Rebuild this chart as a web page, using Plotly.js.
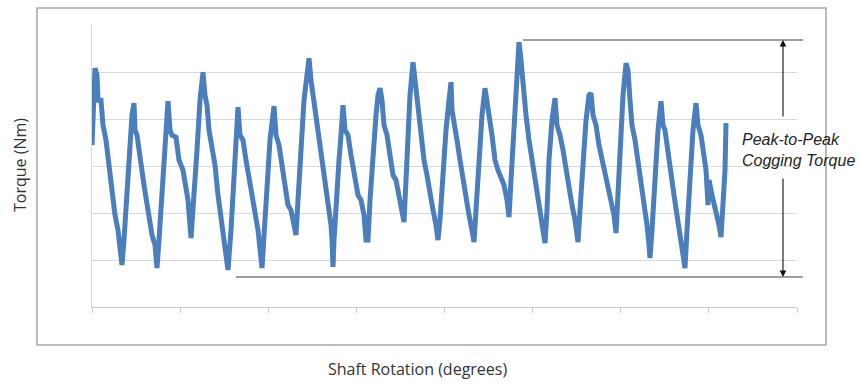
<!DOCTYPE html>
<html>
<head>
<meta charset="utf-8">
<script src="https://cdn.plot.ly/plotly-3.0.1.min.js"></script>
<style>
  html, body { margin: 0; padding: 0; background: #ffffff; }
  #chart { width: 859px; height: 384px; }
</style>
</head>
<body>
<div id="chart"></div>
<script>
// Shaft rotation (arbitrary chart units, 0..705 across the 8 grid intervals)
const shaftRotation = [
  0,1,3,5,6,9,11,14,17,20,23,26,28,30,
  32,35,38,40,42,43,45,48,52,56,60,63,65,
  67,70,73,76,78,80,84,87,91,96,99,
  102,105,108,111,113,115,117,120,123,126,129,132,134,136,
  139,142,144,146,148,151,154,158,162,166,170,
  172,175,178,182,184,187,190,193,196,199,202,204,
  206,209,212,215,217,219,221,224,227,230,233,236,239,240,241,242,
  244,247,249,251,253,256,259,262,266,269,272,274,276,
  278,281,284,286,288,290,292,295,298,301,304,307,310,312,
  314,316,318,321,
  323,326,329,332,335,338,341,344,346,
  348,351,354,357,359,360,362,365,368,371,374,377,380,382,
  384,387,390,393,395,397,400,403,406,409,412,415,417,
  419,422,424,427,
  429,431,434,437,440,443,446,449,451,453,
  455,457,460,463,465,468,471,474,477,480,483,486,
  488,491,494,497,499,501,504,507,510,513,516,519,522,524,
  526,528,531,534,
  536,538,540,543,546,549,552,555,557,558,
  560,563,566,569,571,573,576,579,582,585,588,591,593,
  595,598,601,604,606,609,612,614,616,617,620,624,627,629,631,633,634
];
// Torque (arbitrary chart units, 0..282 across the 6 grid intervals)
const torque = [
  162,197,239,232,207,207,182,167,142,112,92,77,57,42,
  67,117,167,192,204,177,172,147,122,97,72,62,39,
  67,117,172,206,177,172,170,147,137,107,69,
  107,157,207,235,212,202,177,157,142,112,92,72,57,37,
  77,132,167,200,172,167,147,122,102,77,39,
  72,127,167,201,172,162,142,122,102,97,82,72,
  107,157,207,232,249,227,212,197,172,152,127,102,82,67,40,67,
  107,147,172,202,177,172,152,132,112,107,92,67,67,
  107,157,192,212,219,207,182,172,152,132,127,112,97,85,
  127,177,212,245,
  227,197,172,147,132,112,97,82,67,
  87,137,177,207,225,197,182,167,147,127,107,92,77,65,
  97,147,192,219,202,192,172,147,137,129,122,107,90,
  127,187,227,265,
  247,222,192,167,147,132,112,92,77,64,
  97,147,187,209,182,172,157,137,117,102,87,65,
  97,147,187,212,214,192,182,162,147,132,117,107,92,74,
  117,167,212,244,
  237,207,182,167,147,127,107,82,62,49,
  77,137,177,206,182,177,152,132,112,92,72,57,39,
  77,137,177,204,182,172,152,137,102,127,112,97,82,70,97,137,184
];
const xTitle = "Shaft Rotation (degrees)";
const yTitle = "Torque (Nm)";
const noteText = "Peak-to-Peak<br>Cogging Torque";

const trace = {
  x: shaftRotation,
  y: torque,
  type: "scatter",
  mode: "lines",
  line: { color: "#4a7ebd", width: 5 },
  hoverinfo: "skip"
};

const lineColor = "#404040";
const layout = {
  width: 859,
  height: 384,
  margin: { l: 92, r: 62, t: 25, b: 77, pad: 0 },
  paper_bgcolor: "#ffffff",
  plot_bgcolor: "#ffffff",
  showlegend: false,
  font: { family: "Open Sans, sans-serif", color: "#333333" },
  xaxis: {
    range: [0, 705],
    tick0: 0,
    dtick: 88.125,
    showgrid: false,
    zeroline: false,
    showline: true,
    linecolor: "#c8c8c8",
    linewidth: 1,
    ticks: "outside",
    ticklen: 5,
    tickcolor: "#c8c8c8",
    showticklabels: false
  },
  yaxis: {
    range: [0, 282.2],
    tick0: 0,
    dtick: 47,
    showgrid: true,
    gridcolor: "#d9d9d9",
    gridwidth: 1,
    zeroline: false,
    showline: true,
    linecolor: "#d9d9d9",
    linewidth: 1,
    ticks: "",
    showticklabels: false
  },
  shapes: [
    { type: "rect", xref: "paper", yref: "paper",
      x0: -0.078, x1: 1.0411, y0: -0.1348, y1: 1.0603,
      line: { color: "#a6a6a6", width: 1.5 }, fillcolor: "rgba(0,0,0,0)" },
    { type: "line", xref: "paper", yref: "paper",
      x0: 0.6113, x1: 1.0085, y0: 0.9468, y1: 0.9468,
      line: { color: lineColor, width: 1.2 } },
    { type: "line", xref: "paper", yref: "paper",
      x0: 0.2043, x1: 1.0085, y0: 0.1064, y1: 0.1064,
      line: { color: lineColor, width: 1.2 } }
  ],
  annotations: [
    { xref: "paper", yref: "paper", x: 0.9801, y: 0.9468, text: "",
      showarrow: true, arrowhead: 2, arrowsize: 1.2, arrowwidth: 1.1,
      arrowcolor: "#111111", ax: 0, ay: 78, standoff: 0 },
    { xref: "paper", yref: "paper", x: 0.9801, y: 0.1064, text: "",
      showarrow: true, arrowhead: 2, arrowsize: 1.2, arrowwidth: 1.1,
      arrowcolor: "#111111", ax: 0, ay: -100, standoff: 0 },
    { xref: "paper", yref: "paper", x: 0.9192, y: 0.5567,
      xanchor: "left", yanchor: "middle", align: "left",
      text: noteText, showarrow: false,
      font: { family: "Liberation Sans, Arial, sans-serif", size: 16, style: "italic", color: "#222222" } },
    { xref: "paper", yref: "paper", x: -0.1021, y: 0.5035,
      xanchor: "center", yanchor: "middle", textangle: -90,
      text: yTitle, showarrow: false,
      font: { family: "Open Sans, sans-serif", size: 16, color: "#333333" } },
    { xref: "paper", yref: "paper", x: 0.461, y: -0.22,
      xanchor: "center", yanchor: "middle",
      text: xTitle, showarrow: false,
      font: { family: "Open Sans, sans-serif", size: 16, color: "#333333" } }
  ]
};

Plotly.newPlot("chart", [trace], layout, { staticPlot: true, displayModeBar: false });
</script>
</body>
</html>
